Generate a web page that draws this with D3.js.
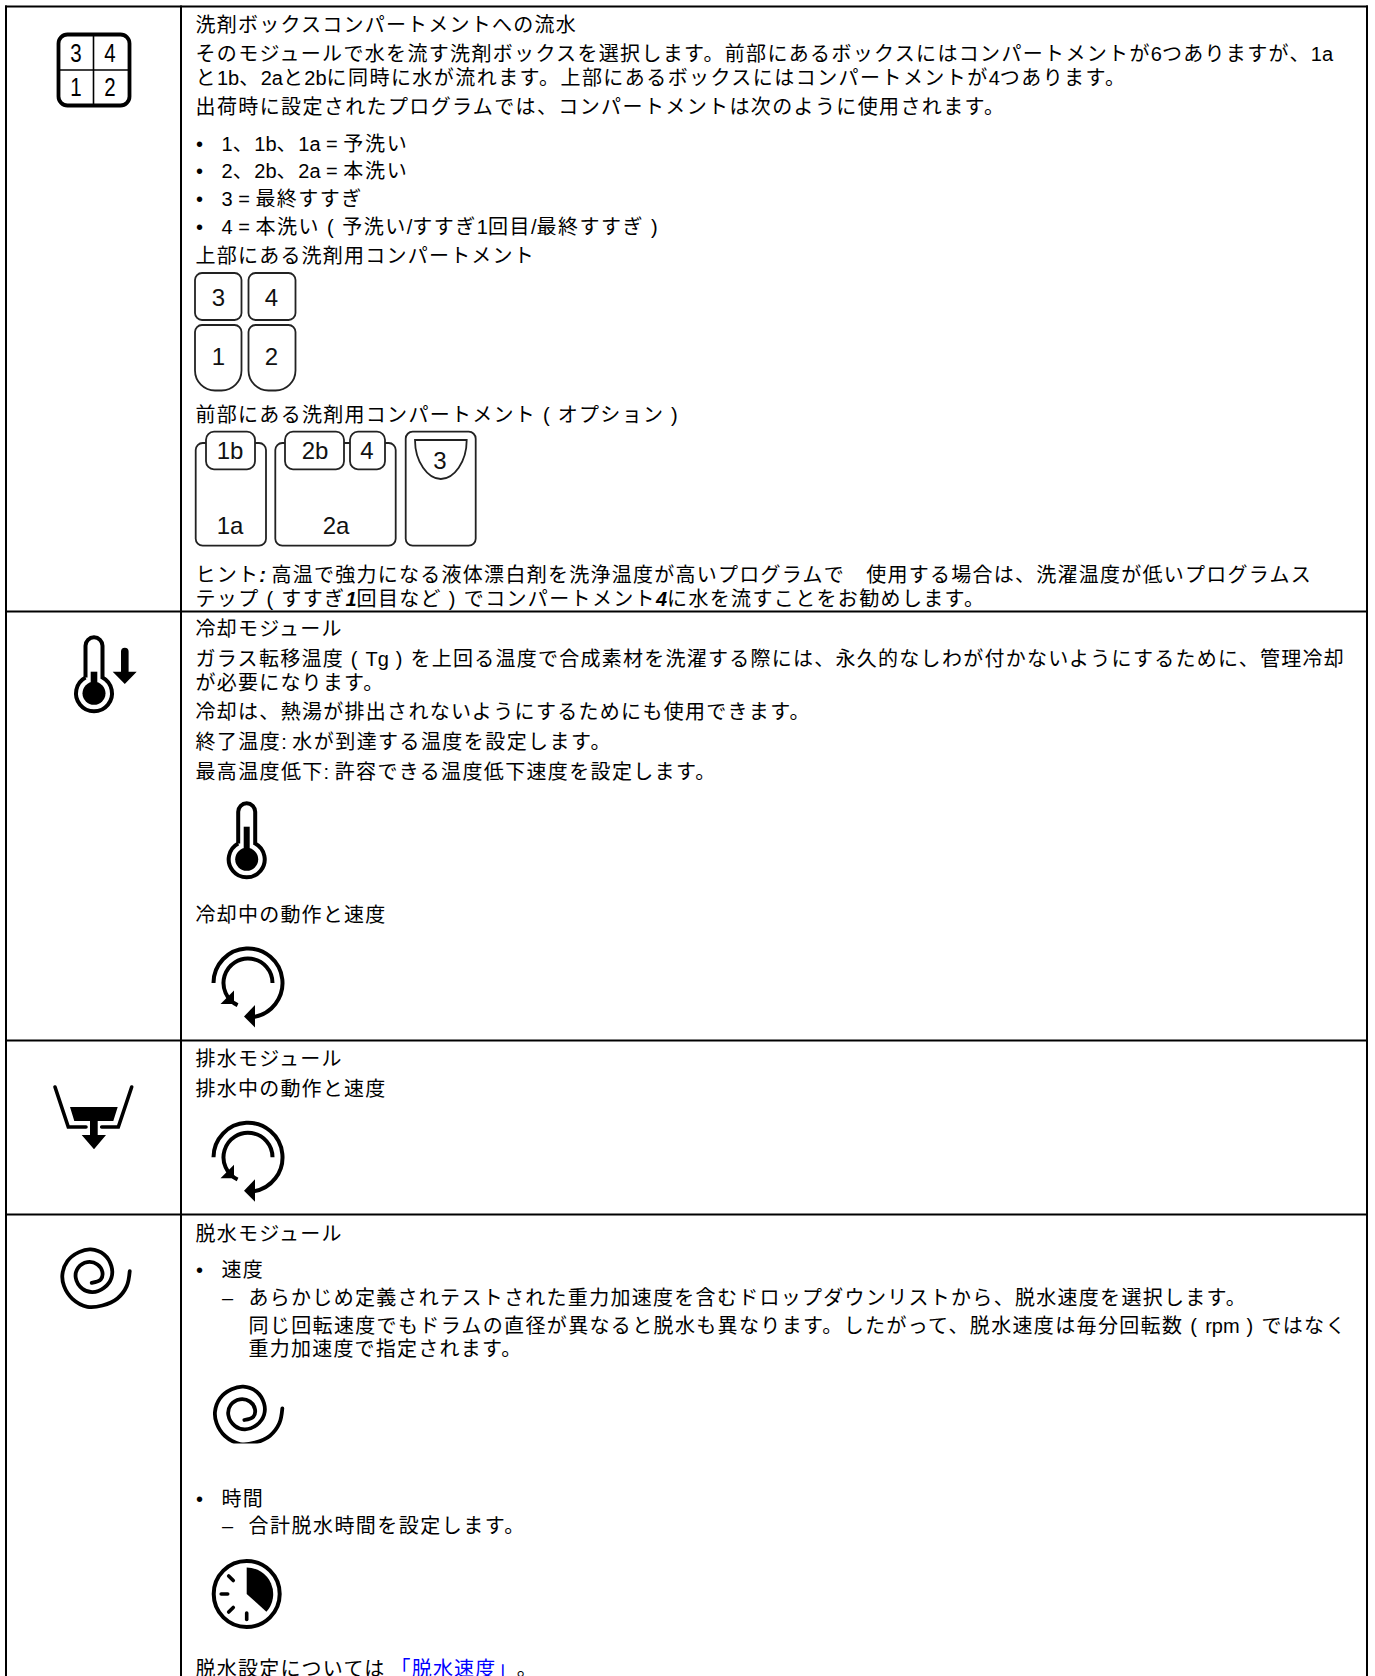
<!DOCTYPE html>
<html lang="ja">
<head>
<meta charset="utf-8">
<script src="https://cdn.jsdelivr.net/npm/d3@7"></script>
<style>
  html, body { margin: 0; padding: 0; background: #fff; overflow: hidden; }
  svg { display: block; }
  text { font-family: "Liberation Sans", "Noto Sans CJK JP", sans-serif; }
</style>
</head>
<body>
<div id="chart"></div>
<script>
// 本文
const row1Text = [
  '洗剤ボックスコンパートメントへの流水',
  'そのモジュールで水を流す洗剤ボックスを選択します。前部にあるボックスにはコンパートメントが6つありますが、1a',
  'と1b、2aと2bに同時に水が流れます。上部にあるボックスにはコンパートメントが4つあります。',
  '出荷時に設定されたプログラムでは、コンパートメントは次のように使用されます。',
  '上部にある洗剤用コンパートメント',
  '前部にある洗剤用コンパートメント（オプション）',
  'ヒント**:** 高温で強力になる液体漂白剤を洗浄温度が高いプログラムで　使用する場合は、洗濯温度が低いプログラムス',
  'テップ（すすぎ**1**回目など）でコンパートメント**4**に水を流すことをお勧めします。'
];
const row1Bullets = [
  '1、1b、1a = 予洗い',
  '2、2b、2a = 本洗い',
  '3 = 最終すすぎ',
  '4 = 本洗い（予洗い/すすぎ1回目/最終すすぎ）'
];
const row2Text = [
  '冷却モジュール',
  'ガラス転移温度（Tg）を上回る温度で合成素材を洗濯する際には、永久的なしわが付かないようにするために、管理冷却',
  'が必要になります。',
  '冷却は、熱湯が排出されないようにするためにも使用できます。',
  '終了温度: 水が到達する温度を設定します。',
  '最高温度低下: 許容できる温度低下速度を設定します。',
  '冷却中の動作と速度'
];
const row3Text = ['排水モジュール', '排水中の動作と速度'];
const row4Text = ['脱水モジュール'];
const row4Level1 = ['速度', '時間'];
const row4Level2 = [
  'あらかじめ定義されテストされた重力加速度を含むドロップダウンリストから、脱水速度を選択します。',
  '同じ回転速度でもドラムの直径が異なると脱水も異なります。したがって、脱水速度は毎分回転数（rpm）ではなく',
  '重力加速度で指定されます。',
  '合計脱水時間を設定します。'
];
const spinNotePlain = '脱水設定については';
const spinNoteLink = '「脱水速度」';
const spinNoteEnd = '。';

const iconDigits = ['3', '4', '1', '2'];
const topBoxLabels = ['3', '4', '1', '2'];
const frontLabels = ['1b', '2b', '4', '3', '1a', '2a'];

const width = 1375, height = 1676;
const svg = d3.select('#chart').append('svg').attr('width', width).attr('height', height);

// 表の罫線
const rowLines = [6.5, 611.5, 1040.5, 1214.5];
const colLines = [6, 181, 1367];
const grid = svg.append('g').attr('stroke', '#000').attr('stroke-width', 2);
rowLines.forEach(y => grid.append('line').attr('x1', 5).attr('x2', 1368).attr('y1', y).attr('y2', y));
colLines.forEach(x => grid.append('line').attr('x1', x).attr('x2', x).attr('y1', 5.5).attr('y2', height));

// 和文だけ字間を少し広げる。括弧は半角＋前後スペース
const cjkRun = /([\u3000-\u30ff\u4e00-\u9fff\uff00-\uffef（）]+)/;
const cjkGap = 1.22;
function addRuns(t, str, gap, fill) {
  str.split(cjkRun).forEach((s, j) => {
    if (!s) return;
    const span = t.append('tspan').text(s.replace(/（/g, ' ( ').replace(/）/g, ' ) '));
    if (j % 2 == 1) span.attr('letter-spacing', gap);
    if (fill) span.attr('fill', fill);
  });
}
// **xx** の部分だけ太字斜体
function addText(x, y, str, gap) {
  const t = svg.append('text').attr('x', x).attr('y', y).attr('font-size', 20).attr('fill', '#000');
  str.split('**').forEach((s, i) => {
    if (i % 2 == 1) t.append('tspan').attr('font-weight', 'bold').attr('font-style', 'italic').text(s);
    else addRuns(t, s, gap === undefined ? cjkGap : gap);
  });
  return t;
}

const textX = 195.5, bulletX = 196, level1X = 221.5, dashX = 222, level2X = 248.5;

const row1Y = [32, 61, 85, 114, 263, 422, 582, 606];
const row1Gap = [1.22, 1.33, 1.44, 1.38, 1.22, 1.29, 1.26, 1.35];
row1Text.forEach((s, i) => addText(textX, row1Y[i], s, row1Gap[i]));
const row1BulletY = [151, 178, 206, 234];
const row1BulletGap = [1.7, 1.7, 1.43, 1.5];
row1Bullets.forEach((s, i) => {
  addText(bulletX, row1BulletY[i], '•');
  addText(level1X, row1BulletY[i], s, row1BulletGap[i]);
});

const row2Y = [636, 666, 690, 719, 749, 779, 922];
const row2Gap = [1.22, 1.26, 1.22, 1.29, 1.43, 1.35, 1.22];
row2Text.forEach((s, i) => addText(textX, row2Y[i], s, row2Gap[i]));

const row3Y = [1066, 1096];
row3Text.forEach((s, i) => addText(textX, row3Y[i], s));

addText(textX, 1241, row4Text[0]);
const level1Y = [1277, 1506];
row4Level1.forEach((s, i) => {
  addText(bulletX, level1Y[i], '•');
  addText(level1X, level1Y[i], s);
});
const level2Y = [1305, 1333, 1356, 1533];
const level2Gap = [1.29, 1.35, 1.22, 1.47];
row4Level2.forEach((s, i) => {
  if (i == 0 || i == 3) addText(dashX, level2Y[i], '–');
  addText(level2X, level2Y[i], s, level2Gap[i]);
});
const note = addText(textX, 1676, spinNotePlain);
note.append('tspan').attr('dx', 5).attr('fill', '#0000ff').attr('letter-spacing', 1.2).text(spinNoteLink);
note.append('tspan').attr('dx', 9).text(spinNoteEnd);

// 洗剤ボックスのアイコン
function roundedBox(g, x0, y0, x1, y1, r, rBottom) {
  const rb = rBottom === undefined ? r : rBottom;
  const p = d3.path();
  p.moveTo(x0 + r, y0);
  p.lineTo(x1 - r, y0);
  p.arcTo(x1, y0, x1, y0 + r, r);
  p.lineTo(x1, y1 - rb);
  p.arcTo(x1, y1, x1 - rb, y1, rb);
  p.lineTo(x0 + rb, y1);
  p.arcTo(x0, y1, x0, y1 - rb, rb);
  p.lineTo(x0, y0 + r);
  p.arcTo(x0, y0, x0 + r, y0, r);
  p.closePath();
  return g.append('path').attr('d', p.toString()).attr('fill', '#fff').attr('stroke', '#222').attr('stroke-width', 1.8);
}
function centerLabel(x, y, s, size) {
  svg.append('text').attr('x', x).attr('y', y).attr('text-anchor', 'middle').attr('dominant-baseline', 'central')
    .attr('font-size', size).attr('fill', '#111').text(s);
}

// 左上の 4 分割アイコン
const mainIcon = svg.append('g');
mainIcon.append('rect').attr('x', 58.5).attr('y', 34.5).attr('width', 71).attr('height', 71).attr('rx', 9)
  .attr('fill', 'none').attr('stroke', '#000').attr('stroke-width', 3.8);
mainIcon.append('line').attr('x1', 93.5).attr('x2', 93.5).attr('y1', 35).attr('y2', 105).attr('stroke', '#000').attr('stroke-width', 1.6);
mainIcon.append('line').attr('x1', 59).attr('x2', 129).attr('y1', 70).attr('y2', 70).attr('stroke', '#000').attr('stroke-width', 1.6);
// 細身の数字は横を詰めて近づける
[[76, 53.5], [110, 53.5], [76, 87.5], [110, 87.5]].forEach((p, i) => {
  mainIcon.append('text').attr('transform', `translate(${p[0]},${p[1]}) scale(0.82,1)`)
    .attr('text-anchor', 'middle').attr('dominant-baseline', 'central')
    .attr('font-family', 'Roboto').attr('font-weight', 100).attr('font-size', 25).attr('fill', '#000').text(iconDigits[i]);
});

// 上部コンパートメント
const topBoxes = svg.append('g');
roundedBox(topBoxes, 195, 273, 241.5, 320, 7);
roundedBox(topBoxes, 248.5, 273, 295.5, 320, 7);
roundedBox(topBoxes, 195, 325, 241.5, 390.5, 7, 20);
roundedBox(topBoxes, 248.5, 325, 295.5, 390.5, 7, 20);
[[218.5, 297], [271.5, 297], [218.5, 356], [271.5, 356]].forEach((p, i) => centerLabel(p[0], p[1], topBoxLabels[i], 24));

// 前部コンパートメント
const frontBoxes = svg.append('g');
roundedBox(frontBoxes, 195.7, 443, 266, 545.7, 7);
roundedBox(frontBoxes, 275.3, 443, 395.7, 545.7, 7);
roundedBox(frontBoxes, 405.7, 431.7, 475.7, 545.7, 7);
roundedBox(frontBoxes, 206, 431.7, 255, 469.3, 8);
roundedBox(frontBoxes, 285, 431.7, 344, 469.3, 8);
roundedBox(frontBoxes, 350, 431.7, 385, 469.3, 8);
const cup = d3.path();
cup.moveTo(415, 440);
cup.lineTo(466.7, 440);
cup.bezierCurveTo(466.7, 462, 454, 479, 440.8, 479);
cup.bezierCurveTo(428, 479, 415, 462, 415, 440);
cup.closePath();
frontBoxes.append('path').attr('d', cup.toString()).attr('fill', '#fff').attr('stroke', '#222').attr('stroke-width', 1.8);
[[230, 450], [315, 450], [367, 450], [440, 460], [230, 525], [336, 525]].forEach((p, i) => centerLabel(p[0], p[1], frontLabels[i], 24));

// 温度計。管と球は一筆で描く
function thermometer(cx, cy, stemTop, stemW) {
  const g = svg.append('g');
  const tubeR = 8.5, bulbR = 18;
  const a = Math.asin(tubeR / bulbR);
  const joinY = cy - bulbR * Math.cos(a);
  const p = d3.path();
  p.moveTo(cx - tubeR, joinY);
  p.lineTo(cx - tubeR, cy - 47.5);
  p.arc(cx, cy - 47.5, tubeR, Math.PI, 0);
  p.lineTo(cx + tubeR, joinY);
  p.arc(cx, cy, bulbR, -Math.PI / 2 + a, -Math.PI / 2 - a);
  g.append('path').attr('d', p.toString()).attr('fill', '#fff').attr('stroke', '#000').attr('stroke-width', 4);
  g.append('rect').attr('x', cx - stemW / 2).attr('y', stemTop).attr('width', stemW).attr('height', cy - stemTop).attr('fill', '#000');
  g.append('circle').attr('cx', cx).attr('cy', cy).attr('r', 11.5).attr('fill', '#000');
}
thermometer(94, 693.3, 671.7, 6.6);
thermometer(246.7, 859.3, 826.7, 6);
svg.append('path').attr('fill', '#000')
  .attr('d', 'M121,671.7L121,651.5A3.8,3.8 0 0 1 128.6,651.5L128.6,671.7L136.7,671.7L124.8,684L112.7,671.7Z');

// 回転アイコン
function rotation(dy) {
  const g = svg.append('g').attr('transform', `translate(0,${dy})`);
  const cx = 248, cy = 983;
  const outer = d3.arc()({ innerRadius: 34.5, outerRadius: 34.5, startAngle: -Math.PI / 2, endAngle: Math.PI * 0.95 });
  const inner = d3.arc()({ innerRadius: 24.5, outerRadius: 24.5, startAngle: Math.PI / 2, endAngle: -Math.PI * 0.86 });
  [outer, inner].forEach(d => {
    g.append('path').attr('transform', `translate(${cx},${cy})`).attr('d', d)
      .attr('fill', 'none').attr('stroke', '#000').attr('stroke-width', 4);
  });
  g.append('path').attr('d', 'M244,1016.5L255,1005L255,1027.5Z').attr('fill', '#000');
  g.append('path').attr('d', 'M234,1004L220.5,1004L234,990.5Z').attr('fill', '#000');
}
rotation(0);
rotation(174.3);

// 排水アイコン
const drain = svg.append('g');
drain.append('path').attr('d', 'M55,1087L68.3,1127L86,1127M131.7,1087L118.3,1127L101.7,1127')
  .attr('fill', 'none').attr('stroke', '#000').attr('stroke-width', 3.6).attr('stroke-linecap', 'round');
drain.append('path').attr('d', 'M70,1107L117.7,1107L113.3,1121L97.7,1121L97.7,1135L106,1135L94,1149.3L81.7,1135L90,1135L90,1121L74.3,1121Z').attr('fill', '#000');

// 脱水アイコン。下の方は図版の切れ目でクリップ
svg.append('clipPath').attr('id', 'spinClip').append('rect').attr('x', 190).attr('y', 1380).attr('width', 110).attr('height', 63.5);
const spiralLine = d3.line().curve(d3.curveCatmullRom);
const spiralPts = [[277, 115], [268, 160], [240, 197], [195, 218], [150, 222], [105, 198], [80, 160], [75, 125], [90, 85], [125, 58], [160, 50], [200, 65], [222, 100], [222, 135], [200, 165], [165, 178], [135, 168], [115, 135], [122, 105], [150, 88], [180, 95], [195, 118], [190, 140], [163, 150]];
function spiral(x0, y0, clip) {
  const wrap = svg.append('g').attr('clip-path', clip ? 'url(#spinClip)' : null);
  wrap.append('g').attr('transform', `translate(${x0},${y0}) scale(${1 / 3})`)
    .append('path').attr('d', spiralLine(spiralPts)).attr('fill', 'none').attr('stroke', '#000')
    .attr('stroke-width', 3.8 * 3).attr('stroke-linecap', 'round');
}
spiral(37.4, 1232.8, false);
spiral(190, 1370, true);

// タイマー
const clock = svg.append('g').attr('transform', 'translate(246.7,1594)');
clock.append('circle').attr('r', 33).attr('fill', 'none').attr('stroke', '#000').attr('stroke-width', 4);
clock.append('path').attr('fill', '#000').attr('d', d3.arc()({ innerRadius: 0, outerRadius: 26.5, startAngle: 0, endAngle: 132 * Math.PI / 180 }));
[180, 225, 270, 315].forEach(a => {
  const r = a * Math.PI / 180;
  clock.append('line')
    .attr('x1', 19 * Math.sin(r)).attr('y1', -19 * Math.cos(r))
    .attr('x2', 25.5 * Math.sin(r)).attr('y2', -25.5 * Math.cos(r))
    .attr('stroke', '#000').attr('stroke-width', 3.6).attr('stroke-linecap', 'round');
});
</script>
</body>
</html>
